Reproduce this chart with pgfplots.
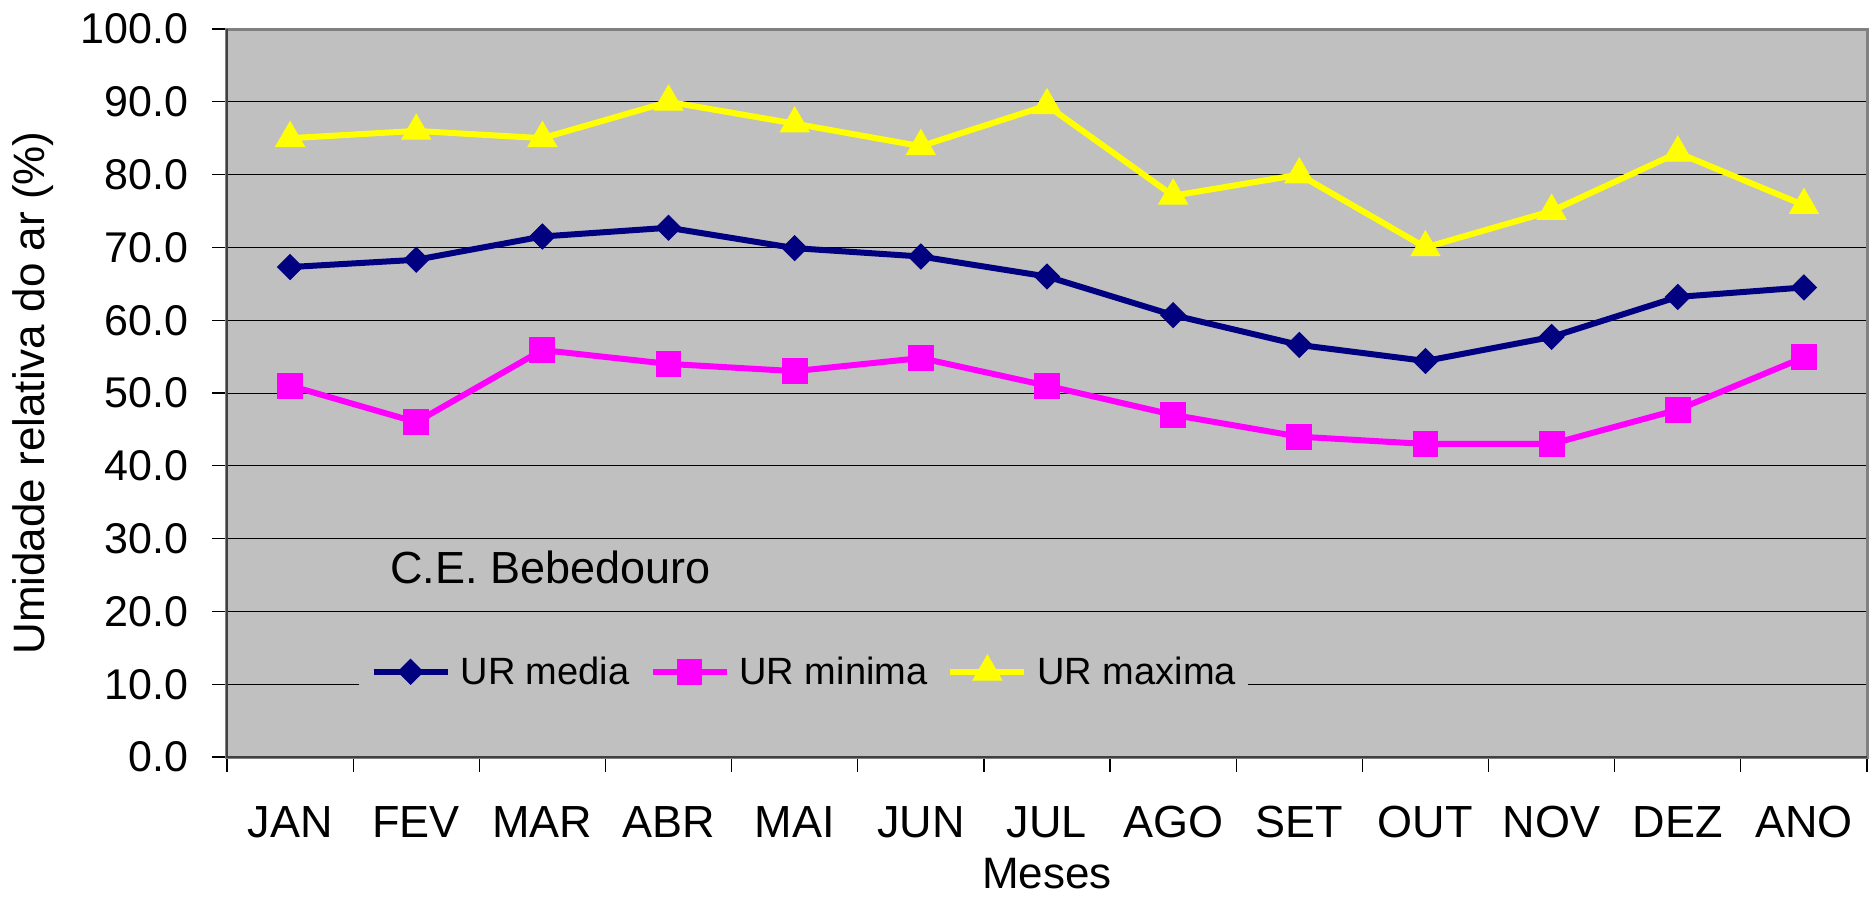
\documentclass[border=0pt]{standalone}
\usepackage{pgfplots}
\pgfplotsset{compat=1.18}
\usepackage{fontspec}
\setmainfont{Liberation Sans}
\definecolor{bggray}{HTML}{C0C0C0}
\definecolor{framegray}{HTML}{808080}
\definecolor{urnavy}{HTML}{000080}
\definecolor{urmag}{HTML}{FF00FF}
\definecolor{uryel}{HTML}{FFFF00}
\begin{document}
\begin{tikzpicture}
\useasboundingbox (-113.5pt,-69.5pt) rectangle (822.5pt,378.5pt);
\begin{axis}[
  scale only axis,
  width=820pt, height=364pt,
  xmin=-0.5, xmax=12.5,
  ymin=0, ymax=100,
  axis background/.style={fill=bggray},
  axis line style={draw=framegray, line width=1.5pt},
  xtick={0,...,12},
  xticklabels={JAN,FEV,MAR,ABR,MAI,JUN,JUL,AGO,SET,OUT,NOV,DEZ,ANO},
  minor xtick={-0.5,0.5,...,12.5},
  ytick={0,10,...,100},
  tick align=outside,
  major tick length=7.5pt,
  minor tick length=7.5pt,
  x tick style={draw=none},
  minor x tick style={draw=black, line width=0.6pt},
  y tick style={draw=black, line width=0.6pt},
  tick pos=left,
  ymajorgrids,
  grid style={black, line width=0.5pt},
  /pgf/number format/.cd, fixed, fixed zerofill, precision=1, assume math mode=true,
  /pgfplots/.cd,
  yticklabel style={font=\fontsize{21.5}{21.5}\selectfont, anchor=east, inner sep=0pt, xshift=-11.5pt},
  xticklabel style={font=\fontsize{22.5}{22.5}\selectfont, anchor=north, inner sep=0pt, yshift=-17pt},
  ylabel={Umidade relativa do ar (\%)},
  xlabel={Meses},
  label style={font=\fontsize{22}{22}\selectfont, inner sep=0pt},
  ylabel style={at={(axis description cs:-0.1183,0.5)}, anchor=center, rotate=0},
  xlabel style={at={(axis description cs:0.5,-0.160)}, anchor=center},
  legend columns=3,
  legend style={at={(axis cs:0.54,11.8)}, anchor=west, fill=bggray, draw=none,
    inner xsep=6pt, inner ysep=5pt,
    font=\fontsize{19}{19}\selectfont,
    nodes={inner sep=0pt},
    /tikz/every odd column/.style={column sep=5pt},
    /tikz/every even column/.style={column sep=10pt}},
  legend cell align=left,
  legend image code/.code={
    \draw[mark repeat=2, mark phase=2, #1] plot coordinates {(0pt,0pt) (18.5pt,0pt) (37pt,0pt)};
  },
]
\addplot[color=urnavy, line width=3pt, mark=square*, mark size=4.4pt,
  mark options={solid, rotate=45, line width=0.5pt, fill=urnavy}]
  coordinates {(0,67.3) (1,68.3) (2,71.5) (3,72.7) (4,69.9) (5,68.75) (6,66.0) (7,60.7) (8,56.6) (9,54.4) (10,57.7) (11,63.2) (12,64.5)};
\addlegendentry{UR media}
\addplot[color=urmag, line width=3pt, mark=square*, mark size=6.2pt,
  mark options={solid, line width=0.5pt, fill=urmag}]
  coordinates {(0,51.0) (1,46.0) (2,55.9) (3,54.0) (4,53.0) (5,54.8) (6,51.0) (7,47.0) (8,44.0) (9,43.0) (10,43.0) (11,47.7) (12,54.9)};
\addlegendentry{UR minima}
\addplot[color=uryel, line width=3pt, mark=triangle*, mark size=8.3pt,
  mark options={solid, line width=0.5pt, fill=uryel}]
  coordinates {(0,85.0) (1,86.0) (2,85.0) (3,90.0) (4,87.0) (5,83.9) (6,89.5) (7,77.1) (8,80.0) (9,70.0) (10,75.0) (11,83.0) (12,75.8)};
\addlegendentry{UR maxima}
\node[anchor=base west, inner sep=0pt, font=\fontsize{22.5}{22.5}\selectfont] at (axis cs:0.792,23.9) {C.E. Bebedouro};
\end{axis}
\draw[black!75, line width=1pt] (0pt,364pt) -- (0pt,0pt) -- (820pt,0pt);
\end{tikzpicture}
\end{document}
